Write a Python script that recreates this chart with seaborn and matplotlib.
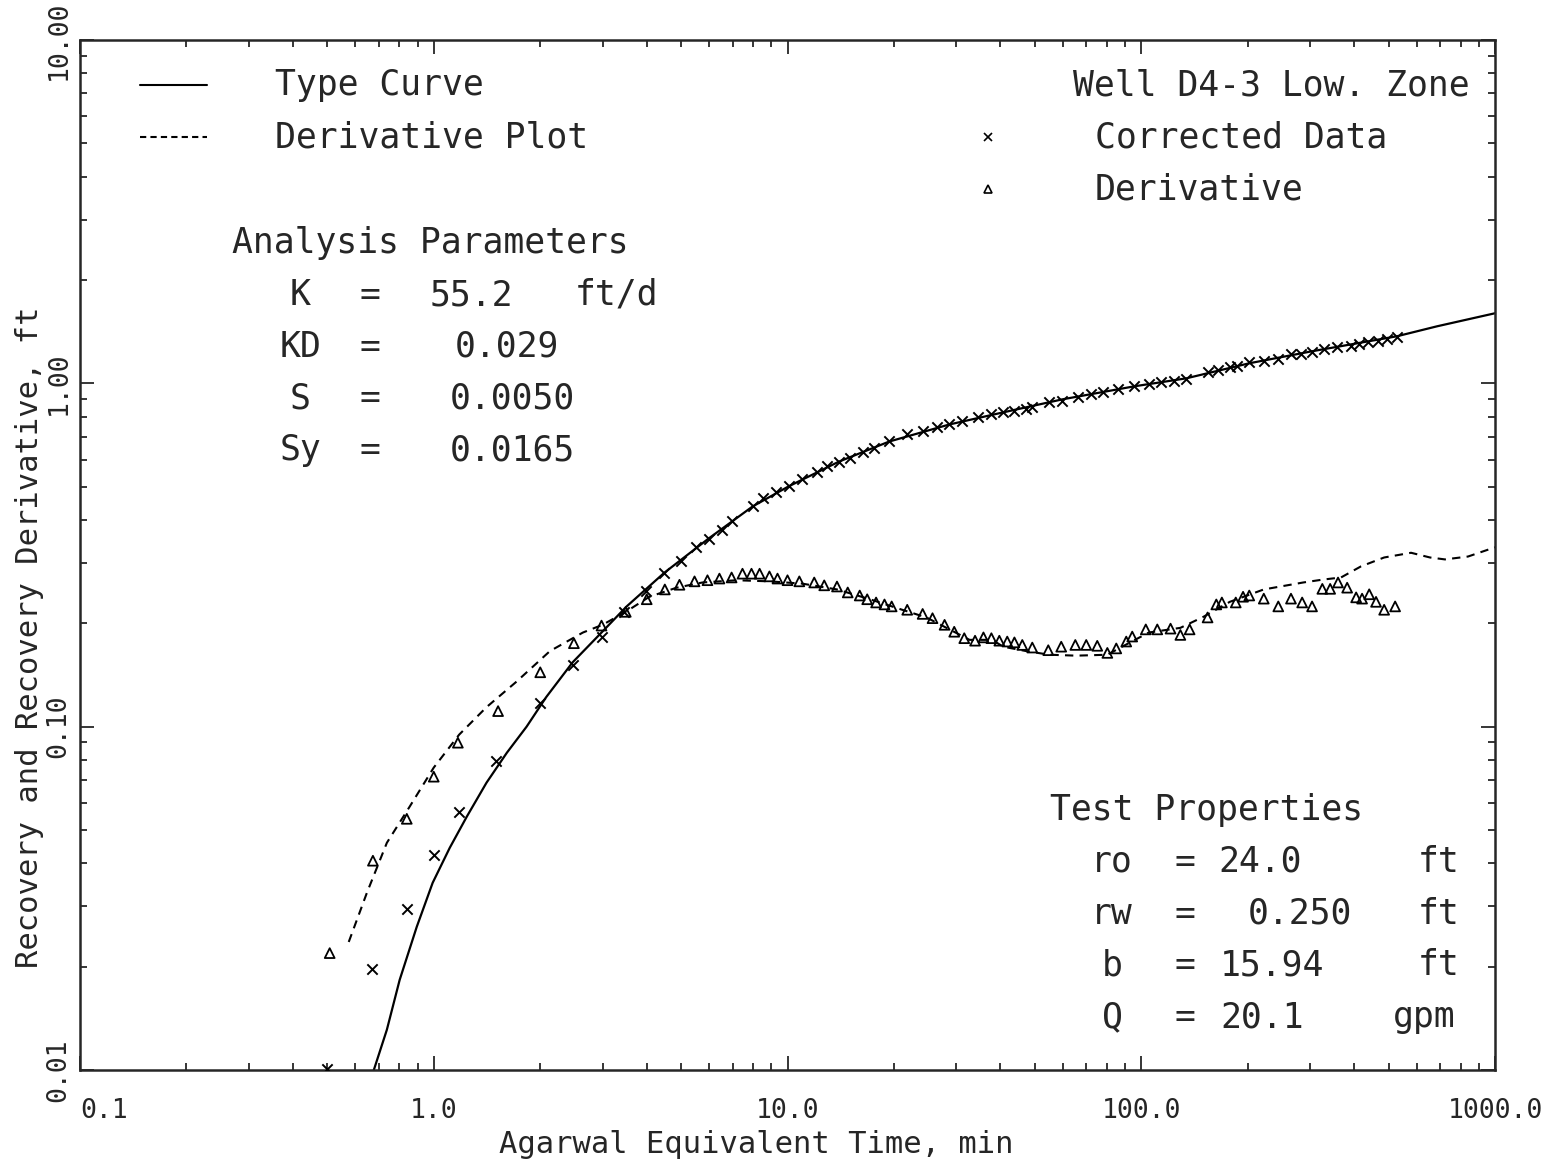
import numpy as np
import pandas as pd
import matplotlib.pyplot as plt
import seaborn as sns
from matplotlib.lines import Line2D

# Corrected recovery data (x markers)
data_time = [0.50, 0.67, 0.84, 1.0, 1.18, 1.5, 2.0, 2.47, 2.98, 3.46, 3.97, 4.49, 4.99,
             5.5, 5.98, 6.51, 6.99, 7.97, 8.5, 9.3, 10.07, 11.0, 12.1, 12.9, 14.0, 15.0,
             16.3, 17.6, 19.4, 21.8, 24.1, 26.5, 28.7, 31.2, 34.6, 37.7, 40.7, 43.8,
             47.3, 49.2, 55.0, 59.8, 66.4, 72.3, 78.1, 86.1, 95.5, 105, 114, 124, 134,
             154, 165, 178, 187, 202, 222, 244, 265, 283, 304, 329, 358, 392, 413, 438,
             467, 495, 528]
data_rec = [0.0101, 0.0197, 0.0295, 0.0424, 0.0565, 0.0796, 0.117, 0.151, 0.183, 0.216,
            0.249, 0.281, 0.303, 0.333, 0.353, 0.375, 0.396, 0.438, 0.462, 0.481, 0.501,
            0.525, 0.550, 0.573, 0.592, 0.608, 0.629, 0.650, 0.677, 0.710, 0.724, 0.744,
            0.759, 0.775, 0.796, 0.812, 0.823, 0.829, 0.840, 0.851, 0.880, 0.886, 0.910,
            0.929, 0.942, 0.961, 0.980, 0.993, 1.007, 1.013, 1.027, 1.077, 1.091, 1.113,
            1.121, 1.151, 1.159, 1.175, 1.215, 1.215, 1.231, 1.256, 1.273, 1.282, 1.300,
            1.317, 1.326, 1.344, 1.361]

# Recovery derivative (open triangles)
deriv_time = [0.508, 0.673, 0.839, 1.0, 1.17, 1.52, 2.0, 2.49, 2.98, 3.49, 4.0, 4.5, 4.95,
              5.46, 5.94, 6.42, 6.95, 7.46, 7.91, 8.34, 8.89, 9.37, 10.0, 10.8, 11.9, 12.7,
              13.8, 14.8, 16.0, 16.8, 17.8, 18.8, 19.7, 21.8, 24.1, 25.7, 27.8, 29.6, 31.6,
              33.9, 35.8, 37.7, 39.7, 41.8, 43.8, 46.1, 49.2, 54.6, 59.4, 65.1, 69.9, 75.1,
              80.2, 85.0, 90.7, 94.3, 103, 111, 121, 129, 137, 154, 163, 169, 185, 194, 202,
              222, 244, 265, 285, 304, 325, 342, 360, 382, 405, 421, 441, 461, 486, 522]
deriv_val = [0.0219, 0.0407, 0.0539, 0.0715, 0.0898, 0.111, 0.144, 0.175, 0.197, 0.216,
             0.235, 0.251, 0.259, 0.265, 0.267, 0.270, 0.272, 0.279, 0.279, 0.279, 0.274,
             0.270, 0.267, 0.265, 0.263, 0.258, 0.256, 0.246, 0.241, 0.235, 0.230, 0.227,
             0.224, 0.219, 0.213, 0.207, 0.198, 0.189, 0.181, 0.178, 0.182, 0.181, 0.178,
             0.177, 0.176, 0.173, 0.170, 0.167, 0.171, 0.173, 0.173, 0.172, 0.164, 0.169,
             0.177, 0.183, 0.192, 0.192, 0.193, 0.185, 0.192, 0.208, 0.227, 0.230, 0.230,
             0.239, 0.241, 0.236, 0.224, 0.236, 0.230, 0.224, 0.252, 0.252, 0.263, 0.254,
             0.238, 0.236, 0.243, 0.231, 0.219, 0.224]

# Type curve (solid line)
type_time = [0.677, 0.737, 0.801, 0.895, 0.993, 1.11, 1.24, 1.41, 1.61, 1.83, 2.08, 2.47,
             2.98, 3.51, 4.49, 5.98, 7.97, 10.07, 14.0, 19.4, 28.7, 40.7, 59.8, 95.5, 134,
             202, 304, 528, 686, 1000]
type_val = [0.0100, 0.0131, 0.0183, 0.0261, 0.0351, 0.0444, 0.0547, 0.0687, 0.0840,
            0.100, 0.122, 0.154, 0.188, 0.224, 0.281, 0.353, 0.438, 0.501, 0.592, 0.677,
            0.759, 0.823, 0.898, 0.980, 1.034, 1.144, 1.240, 1.371, 1.466, 1.60]

# Derivative plot (dashed line)
dplot_time = [0.575, 0.647, 0.737, 0.855, 1.0, 1.18, 1.41, 1.71, 2.13, 2.64, 3.0, 3.49,
              4.07, 4.86, 5.75, 7.17, 8.89, 11.0, 13.8, 17.1, 21.1, 24.7, 28.7, 32.7, 37.9,
              40.7, 47.3, 55.0, 65.5, 80.2, 88.3, 105, 129, 150, 178, 222, 287, 325, 367,
              418, 486, 579, 655, 722, 839, 1000]
dplot_val = [0.0236, 0.0328, 0.0459, 0.0585, 0.0760, 0.0948, 0.114, 0.135, 0.166, 0.188,
             0.198, 0.216, 0.239, 0.254, 0.263, 0.267, 0.265, 0.261, 0.251, 0.235, 0.219,
             0.208, 0.192, 0.179, 0.179, 0.171, 0.166, 0.162, 0.161, 0.162, 0.171, 0.188,
             0.194, 0.209, 0.231, 0.251, 0.263, 0.268, 0.272, 0.293, 0.311, 0.321, 0.311,
             0.307, 0.313, 0.333]

x_ticks = [0.1, 1, 10, 100, 1000]
x_tick_labels = ["0.1", "1.0", "10.0", "100.0", "1000.0"]
y_ticks = [0.01, 0.1, 1, 10]
y_tick_labels = ["0.01", "0.10", "1.00", "10.00"]

param_names = ["K", "KD", "S", "Sy"]
param_values = ["55.2", "0.029", "0.0050", "0.0165"]
param_units = ["ft/d", "", "", ""]

prop_names = ["ro", "rw", "b", "Q"]
prop_values = ["24.0", "0.250", "15.94", "20.1"]
prop_units = ["ft", "ft", "ft", "gpm"]

sns.set_style("ticks")
plt.rcParams['font.family'] = ['DejaVu Sans Mono', 'DejaVu Sans']

W, H = 1545, 1169
fig = plt.figure(figsize=(W / 100, H / 100), dpi=100)
x0, x1, y0, y1 = 80, 1495, 40, 1070  # axes box in pixels
ax = fig.add_axes([x0 / W, 1 - y1 / H, (x1 - x0) / W, (y1 - y0) / H])


def fx(px):
    return (px - x0) / (x1 - x0)


def fy(py):
    return (y1 - py) / (y1 - y0)


# curves
sns.lineplot(x=type_time, y=type_val, color="black", lw=1.6, sort=False,
             estimator=None, ax=ax)
sns.lineplot(x=dplot_time, y=dplot_val, color="black", lw=1.5, sort=False,
             estimator=None, ls=(0, (4, 3)), ax=ax)

# data points
sns.scatterplot(x=data_time, y=data_rec, marker="x", color="black", s=55,
                linewidth=1.4, ax=ax, zorder=3)
ax.scatter(deriv_time, deriv_val, marker="^", s=50, facecolors="none",
           edgecolors="black", linewidths=1.3, zorder=3)

ax.set_xscale("log")
ax.set_yscale("log")
ax.set_xlim(0.1, 1000)
ax.set_ylim(0.01, 10)

ax.set_xticks(x_ticks)
ax.set_xticklabels(x_tick_labels, fontsize=19)
ax.set_yticks(y_ticks)
ax.set_yticklabels(y_tick_labels, fontsize=19, rotation=90, va="center")
ax.get_xticklabels()[0].set_ha("left")
ax.tick_params(which="both", direction="in", top=True, right=True, width=1.3)
ax.tick_params(which="major", length=10)
ax.tick_params(which="minor", length=5)
ax.tick_params(axis="x", pad=20)
ax.tick_params(axis="y", pad=6)
for sp in ax.spines.values():
    sp.set_linewidth(1.8)

ax.set_xlabel("Agarwal Equivalent Time, min", fontsize=22)
ax.set_ylabel("Recovery and Recovery Derivative, ft", fontsize=22)
ax.xaxis.set_label_coords(fx(756), fy(1130))
ax.yaxis.set_label_coords(fx(44), fy(637))

fs = 25
tr = ax.transAxes

# legend, upper left
ax.add_line(Line2D([fx(140), fx(207)], [fy(85), fy(85)], color="black", lw=1.5, transform=tr))
ax.add_line(Line2D([fx(140), fx(207)], [fy(137), fy(137)], color="black", lw=1.5,
                   ls=(0, (3, 2)), transform=tr))
ax.text(fx(275), fy(85), "Type Curve", fontsize=fs, va="center", transform=tr)
ax.text(fx(275), fy(137), "Derivative Plot", fontsize=fs, va="center", transform=tr)

# legend, upper right
ax.text(fx(1470), fy(85), "Well D4-3 Low. Zone", fontsize=fs, va="center", ha="right",
        transform=tr)
ax.plot([fx(988)], [fy(137)], marker="x", color="black", ms=6, mew=1.2, transform=tr,
        clip_on=False)
ax.plot([fx(988)], [fy(189)], marker="^", color="black", mfc="none", ms=6, mew=1.2,
        transform=tr, clip_on=False)
ax.text(fx(1095), fy(137), "Corrected Data", fontsize=fs, va="center", transform=tr)
ax.text(fx(1095), fy(189), "Derivative", fontsize=fs, va="center", transform=tr)

# analysis parameters
ax.text(fx(232), fy(243), "Analysis Parameters", fontsize=fs, va="center", transform=tr)
value_x = [430, 455, 450, 450]
for i, (n, v, u) in enumerate(zip(param_names, param_values, param_units)):
    yy = fy(295 + 51.7 * i)
    ax.text(fx(300), yy, n, fontsize=fs, va="center", ha="center", transform=tr)
    ax.text(fx(370), yy, "=", fontsize=fs, va="center", ha="center", transform=tr)
    ax.text(fx(value_x[i]), yy, v, fontsize=fs, va="center", transform=tr)
    if u:
        ax.text(fx(575), yy, u, fontsize=fs, va="center", transform=tr)

# test properties
ax.text(fx(1050), fy(810), "Test Properties", fontsize=fs, va="center", transform=tr)
pvalue_x = [1218, 1248, 1220, 1220]
punit_x = [1418, 1418, 1418, 1393]
for i, (n, v, u) in enumerate(zip(prop_names, prop_values, prop_units)):
    yy = fy(862 + 51.7 * i)
    ax.text(fx(1112), yy, n, fontsize=fs, va="center", ha="center", transform=tr)
    ax.text(fx(1185), yy, "=", fontsize=fs, va="center", ha="center", transform=tr)
    ax.text(fx(pvalue_x[i]), yy, v, fontsize=fs, va="center", transform=tr)
    ax.text(fx(punit_x[i]), yy, u, fontsize=fs, va="center", transform=tr)

fig.savefig("out.png", dpi=100)
